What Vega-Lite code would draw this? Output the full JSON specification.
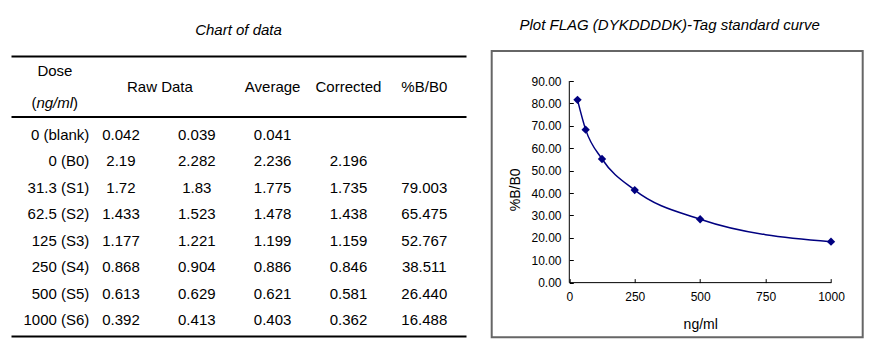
{
  "$schema": "https://vega.github.io/schema/vega-lite/v6.json",
  "background": "white",
  "padding": {"left": 11, "top": 17, "right": 0, "bottom": 0},
  "config": {
    "font": "Liberation Sans",
    "text": {"font": "Liberation Sans", "fontSize": 15, "color": "black"},
    "title": {"font": "Liberation Sans", "fontSize": 15, "fontStyle": "italic", "fontWeight": "normal", "color": "black"},
    "axis": {"labelFont": "Liberation Sans", "titleFont": "Liberation Sans", "labelColor": "black", "titleColor": "black", "grid": false}
  },
  "datasets": {
    "rows": [
      {"row": "0 (blank)", "r1": "0.042", "r2": "0.039", "avg": "0.041", "cor": "", "pct": ""},
      {"row": "0 (B0)", "r1": "2.19", "r2": "2.282", "avg": "2.236", "cor": "2.196", "pct": ""},
      {"row": "31.3 (S1)", "r1": "1.72", "r2": "1.83", "avg": "1.775", "cor": "1.735", "pct": "79.003"},
      {"row": "62.5 (S2)", "r1": "1.433", "r2": "1.523", "avg": "1.478", "cor": "1.438", "pct": "65.475"},
      {"row": "125 (S3)", "r1": "1.177", "r2": "1.221", "avg": "1.199", "cor": "1.159", "pct": "52.767"},
      {"row": "250 (S4)", "r1": "0.868", "r2": "0.904", "avg": "0.886", "cor": "0.846", "pct": "38.511"},
      {"row": "500 (S5)", "r1": "0.613", "r2": "0.629", "avg": "0.621", "cor": "0.581", "pct": "26.440"},
      {"row": "1000 (S6)", "r1": "0.392", "r2": "0.413", "avg": "0.403", "cor": "0.362", "pct": "16.488"}
    ],
    "curve": [
      {"dose": 31.3, "pct": 81.6},
      {"dose": 62.5, "pct": 68.3},
      {"dose": 125, "pct": 55.2},
      {"dose": 250, "pct": 41.3},
      {"dose": 500, "pct": 28.3},
      {"dose": 1000, "pct": 18.3}
    ]
  },
  "bounds": "flush",
  "spacing": 25.7,
  "hconcat": [
    {
      "width": 455,
      "height": 285,
      "view": {"stroke": null},
      "title": {"text": "Chart of data", "baseline": "alphabetic", "offset": 1.5},
      "resolve": {"scale": {"y": "independent"}, "axis": {"x": "independent"}},
      "layer": [
        {
          "data": {"values": [{"c": "dose", "h": "1", "t": "Dose"}]},
          "mark": {"type": "text", "dx": 9.8},
          "encoding": {
            "x": {"field": "c", "type": "nominal", "scale": {"type": "point", "domain": ["dose", "r1", "r2", "avg", "cor", "pct"], "padding": 0.5, "align": 0.45}, "axis": null},
            "y": {"field": "h", "type": "nominal", "scale": {"type": "point", "domain": ["1", "2", "3"], "range": [20.3, 52.3], "padding": 0}, "axis": null},
            "text": {"field": "t"}
          }
        },
        {
          "data": {"values": [{"c": "dose", "h": "3", "t": "ng/ml"}]},
          "mark": {"type": "text", "dx": 9.6, "fontStyle": "italic"},
          "encoding": {
            "x": {"field": "c", "type": "nominal", "scale": {"type": "point", "domain": ["dose", "r1", "r2", "avg", "cor", "pct"], "padding": 0.5, "align": 0.45}, "axis": null},
            "y": {"field": "h", "type": "nominal", "scale": {"type": "point", "domain": ["1", "2", "3"], "range": [20.3, 52.3], "padding": 0}, "axis": null},
            "text": {"field": "t"}
          }
        },
        {
          "data": {"values": [{"c": "dose", "h": "3", "t": "("}]},
          "mark": {"type": "text", "dx": -8.7, "align": "right"},
          "encoding": {
            "x": {"field": "c", "type": "nominal", "scale": {"type": "point", "domain": ["dose", "r1", "r2", "avg", "cor", "pct"], "padding": 0.5, "align": 0.45}, "axis": null},
            "y": {"field": "h", "type": "nominal", "scale": {"type": "point", "domain": ["1", "2", "3"], "range": [20.3, 52.3], "padding": 0}, "axis": null},
            "text": {"field": "t"}
          }
        },
        {
          "data": {"values": [{"c": "dose", "h": "3", "t": ")"}]},
          "mark": {"type": "text", "dx": 27.9, "align": "left"},
          "encoding": {
            "x": {"field": "c", "type": "nominal", "scale": {"type": "point", "domain": ["dose", "r1", "r2", "avg", "cor", "pct"], "padding": 0.5, "align": 0.45}, "axis": null},
            "y": {"field": "h", "type": "nominal", "scale": {"type": "point", "domain": ["1", "2", "3"], "range": [20.3, 52.3], "padding": 0}, "axis": null},
            "text": {"field": "t"}
          }
        },
        {
          "data": {"values": [{"c": "avg", "h": "2", "t": "Average"}, {"c": "cor", "h": "2", "t": "Corrected"}, {"c": "pct", "h": "2", "t": "%B/B0"}]},
          "mark": {"type": "text"},
          "encoding": {
            "x": {"field": "c", "type": "nominal", "scale": {"type": "point", "domain": ["dose", "r1", "r2", "avg", "cor", "pct"], "padding": 0.5, "align": 0.45},
                  "axis": {"orient": "top", "offset": -5, "labels": false, "ticks": false, "title": null, "domainColor": "black", "domainWidth": 2}},
            "y": {"field": "h", "type": "nominal", "scale": {"type": "point", "domain": ["1", "2", "3"], "range": [20.3, 52.3], "padding": 0}, "axis": null},
            "text": {"field": "t"}
          }
        },
        {
          "data": {"values": [{"c": "r1", "h": "2", "t": "Raw Data"}]},
          "mark": {"type": "text", "align": "left", "dx": 6},
          "encoding": {
            "x": {"field": "c", "type": "nominal", "scale": {"type": "point", "domain": ["dose", "r1", "r2", "avg", "cor", "pct"], "padding": 0.5, "align": 0.45},
                  "axis": {"orient": "top", "offset": -65.6, "labels": false, "ticks": false, "title": null, "domainColor": "black", "domainWidth": 2}},
            "y": {"field": "h", "type": "nominal", "scale": {"type": "point", "domain": ["1", "2", "3"], "range": [20.3, 52.3], "padding": 0}, "axis": null},
            "text": {"field": "t"}
          }
        },
        {
          "data": {"name": "rows"},
          "transform": [{"fold": ["r1", "r2", "avg", "cor", "pct"], "as": ["c", "v"]}],
          "mark": {"type": "text"},
          "encoding": {
            "x": {"field": "c", "type": "nominal", "scale": {"type": "point", "domain": ["dose", "r1", "r2", "avg", "cor", "pct"], "padding": 0.5, "align": 0.45},
                  "axis": {"orient": "bottom", "labels": false, "ticks": false, "title": null, "domainColor": "black", "domainWidth": 2}},
            "y": {"field": "row", "type": "nominal", "scale": {"type": "point", "domain": ["0 (blank)", "0 (B0)", "31.3 (S1)", "62.5 (S2)", "125 (S3)", "250 (S4)", "500 (S5)", "1000 (S6)"], "range": [84, 269.3], "padding": 0}, "axis": null},
            "text": {"field": "v"}
          }
        },
        {
          "data": {"name": "rows"},
          "mark": {"type": "text", "align": "right", "dx": 44.2},
          "encoding": {
            "x": {"datum": "dose", "type": "nominal", "scale": {"type": "point", "domain": ["dose", "r1", "r2", "avg", "cor", "pct"], "padding": 0.5, "align": 0.45}, "axis": null},
            "y": {"field": "row", "type": "nominal", "scale": {"type": "point", "domain": ["0 (blank)", "0 (B0)", "31.3 (S1)", "62.5 (S2)", "125 (S3)", "250 (S4)", "500 (S5)", "1000 (S6)"], "range": [84, 269.3], "padding": 0}, "axis": null},
            "text": {"field": "row"}
          }
        }
      ]
    },
    {
      "width": 371,
      "height": 286.3,
      "view": {"stroke": "#666666", "strokeWidth": 2},
      "title": {"text": "Plot FLAG (DYKDDDDK)-Tag standard curve", "baseline": "alphabetic", "offset": 5.9, "dx": -7.5},
      "layer": [
        {
          "data": {"name": "curve"},
          "mark": {"type": "line", "interpolate": "monotone", "color": "#000080", "strokeWidth": 1.5},
          "encoding": {
            "x": {"field": "dose", "type": "quantitative", "scale": {"domain": [-296.5, 1121.1], "nice": false, "zero": false},
                  "axis": {"values": [0, 250, 500, 750, 1000], "format": "d", "offset": -54.7, "domain": false, "tickSize": -4, "tickColor": "black", "labelFontSize": 12, "labelPadding": 13, "labelOverlap": false, "title": "ng/ml", "titleFontSize": 14, "titleFontWeight": "normal", "titlePadding": 15, "titleX": 208.5}},
            "y": {"field": "pct", "type": "quantitative", "scale": {"domain": [-24.4, 103.4], "nice": false, "zero": false},
                  "axis": {"values": [0, 10, 20, 30, 40, 50, 60, 70, 80, 90], "format": ".2f", "offset": -77.6, "domain": false, "tickSize": -4, "tickColor": "black", "labelFontSize": 12, "labelPadding": 12.3, "labelOverlap": false, "title": "%B/B0", "titleFontSize": 14, "titleFontWeight": "normal", "titlePadding": 8, "titleY": 138.3}}
          }
        },
        {
          "data": {"name": "curve"},
          "mark": {"type": "point", "shape": "diamond", "filled": true, "size": 70, "color": "#000080", "opacity": 1},
          "encoding": {
            "x": {"field": "dose", "type": "quantitative",
                  "axis": {"values": [0, 250, 500, 750, 1000], "format": "d", "offset": -54.7, "domain": false, "tickSize": -4, "tickColor": "black", "labelFontSize": 12, "labelPadding": 13, "labelOverlap": false, "title": "ng/ml", "titleFontSize": 14, "titleFontWeight": "normal", "titlePadding": 15, "titleX": 208.5}},
            "y": {"field": "pct", "type": "quantitative",
                  "axis": {"values": [0, 10, 20, 30, 40, 50, 60, 70, 80, 90], "format": ".2f", "offset": -77.6, "domain": false, "tickSize": -4, "tickColor": "black", "labelFontSize": 12, "labelPadding": 12.3, "labelOverlap": false, "title": "%B/B0", "titleFontSize": 14, "titleFontWeight": "normal", "titlePadding": 8, "titleY": 138.3}}
          }
        },
        {
          "data": {"values": [{}]},
          "mark": {"type": "rule", "color": "black", "strokeWidth": 1},
          "encoding": {
            "x": {"datum": 0, "type": "quantitative",
                  "axis": {"values": [0, 250, 500, 750, 1000], "format": "d", "offset": -54.7, "domain": false, "tickSize": -4, "tickColor": "black", "labelFontSize": 12, "labelPadding": 13, "labelOverlap": false, "title": "ng/ml", "titleFontSize": 14, "titleFontWeight": "normal", "titlePadding": 15, "titleX": 208.5}},
            "x2": {"datum": 1000},
            "y": {"datum": 0, "type": "quantitative",
                  "axis": {"values": [0, 10, 20, 30, 40, 50, 60, 70, 80, 90], "format": ".2f", "offset": -77.6, "domain": false, "tickSize": -4, "tickColor": "black", "labelFontSize": 12, "labelPadding": 12.3, "labelOverlap": false, "title": "%B/B0", "titleFontSize": 14, "titleFontWeight": "normal", "titlePadding": 8, "titleY": 138.3}}
          }
        },
        {
          "data": {"values": [{}]},
          "mark": {"type": "rule", "color": "black", "strokeWidth": 1},
          "encoding": {
            "x": {"datum": 0, "type": "quantitative",
                  "axis": {"values": [0, 250, 500, 750, 1000], "format": "d", "offset": -54.7, "domain": false, "tickSize": -4, "tickColor": "black", "labelFontSize": 12, "labelPadding": 13, "labelOverlap": false, "title": "ng/ml", "titleFontSize": 14, "titleFontWeight": "normal", "titlePadding": 15, "titleX": 208.5}},
            "y": {"datum": 0, "type": "quantitative",
                  "axis": {"values": [0, 10, 20, 30, 40, 50, 60, 70, 80, 90], "format": ".2f", "offset": -77.6, "domain": false, "tickSize": -4, "tickColor": "black", "labelFontSize": 12, "labelPadding": 12.3, "labelOverlap": false, "title": "%B/B0", "titleFontSize": 14, "titleFontWeight": "normal", "titlePadding": 8, "titleY": 138.3}},
            "y2": {"datum": 90}
          }
        }
      ]
    }
  ]
}
